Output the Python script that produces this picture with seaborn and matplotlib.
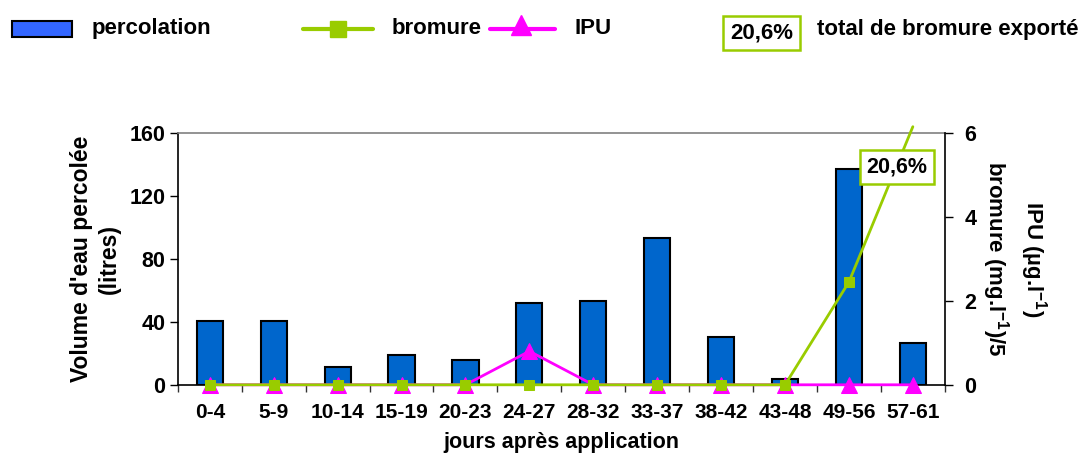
import numpy as np
import pandas as pd
import matplotlib
matplotlib.use("Agg")
import matplotlib.pyplot as plt
from matplotlib.patches import Rectangle
from matplotlib.lines import Line2D
import seaborn as sns

# donnees
periodes = ["0-4", "5-9", "10-14", "15-19", "20-23", "24-27",
            "28-32", "33-37", "38-42", "43-48", "49-56", "57-61"]
percolation = [40.8, 40.5, 11.2, 19.2, 15.6, 52.0, 53.2, 93.4, 30.6, 3.9, 136.8, 26.6]
bromure = [0, 0, 0, 0, 0, 0, 0, 0, 0, 0, 2.45, 6.15]
ipu = [0, 0, 0, 0, 0, 0.8, 0, 0, 0, 0, 0, 0]
total_exporte = "20,6%"

df = pd.DataFrame({"periode": periodes, "percolation": percolation,
                   "bromure": bromure, "ipu": ipu, "pos": np.arange(len(periodes))})

sns.set_theme(style="white")
plt.rcParams["font.family"] = ["Liberation Sans", "DejaVu Sans"]
plt.rcParams["font.weight"] = "bold"
plt.rcParams["text.color"] = "black"
plt.rcParams["axes.labelcolor"] = "black"
plt.rcParams["xtick.color"] = "black"
plt.rcParams["ytick.color"] = "black"
plt.rcParams["mathtext.fontset"] = "custom"
plt.rcParams["mathtext.rm"] = "Liberation Sans:bold"
plt.rcParams["mathtext.bf"] = "Liberation Sans:bold"
plt.rcParams["mathtext.default"] = "rm"

BLEU = "#0066cc"
VERT = "#99cc00"
ROSE = "#ff00ff"
FS = 15.5

fig = plt.figure(figsize=(10.91, 4.57), dpi=100)
ax = fig.add_axes([0.163, 0.158, 0.703, 0.551])

# 1. barres de percolation
sns.barplot(data=df, x="periode", y="percolation", ax=ax, color=BLEU,
            saturation=1, width=0.41, edgecolor="black", linewidth=1.5, zorder=2)
ax.set_xlim(-0.5, 11.5)
ax.set_ylim(0, 160)
ax.set_yticks([0, 40, 80, 120, 160])
ax.set_xlabel("jours après application", fontsize=15.5, fontweight="bold", labelpad=7)
ax.set_ylabel("Volume d'eau percolée\n(litres)", fontsize=16.5, fontweight="bold",
              labelpad=6, linespacing=1.25)
ax.tick_params(axis="y", labelsize=FS, length=6, width=1, left=True, pad=3)
ax.tick_params(axis="x", which="major", length=0, labelsize=15, pad=13)
ax.set_xticks(np.arange(-0.5, 12, 1), minor=True)
ax.tick_params(axis="x", which="minor", bottom=True, length=5, width=1, color="#333333")
for s in ["left", "bottom"]:
    ax.spines[s].set_color("black")
    ax.spines[s].set_linewidth(1.2)
ax.spines["top"].set_color("#808080")
ax.spines["top"].set_linewidth(1.2)
ax.spines["right"].set_visible(False)
for lab in ax.get_xticklabels() + ax.get_yticklabels():
    lab.set_fontweight("bold")

# 2. bromure et IPU sur l'axe droit
ax2 = ax.twinx()
ax2.set_ylim(0, 6)
ax2.set_yticks([0, 2, 4, 6])
sns.lineplot(data=df, x="pos", y="ipu", ax=ax2, color=ROSE, linewidth=2,
             marker="^", markersize=11, markeredgecolor=ROSE, zorder=3,
             clip_on=False)
sns.lineplot(data=df, x="pos", y="bromure", ax=ax2, color=VERT, linewidth=2,
             marker="s", markersize=7, markeredgecolor=VERT, zorder=4,
             markevery=list(range(len(periodes) - 1)))
ligne_br = ax2.get_lines()[-1]
ligne_br.set_clip_path(Rectangle((-0.05, -0.1), 1.1, 1.13, transform=ax2.transAxes))
ax2.set_xlim(-0.5, 11.5)
ax2.set_xlabel("")
ax2.set_ylabel("IPU (µg.l$^{-1}$)\nbromure (mg.l$^{-1}$)/5", rotation=270,
               fontsize=16, fontweight="bold", labelpad=52, linespacing=1.3)
ax2.tick_params(axis="y", labelsize=FS, length=6, width=1, right=True, pad=8)
for lab in ax2.get_yticklabels():
    lab.set_fontweight("bold")
for s in ["left", "bottom", "top"]:
    ax2.spines[s].set_visible(False)
ax2.spines["right"].set_color("black")
ax2.spines["right"].set_linewidth(1.2)

ax2.text(10.75, 5.2, total_exporte, fontsize=FS, fontweight="bold",
         ha="center", va="center", zorder=6,
         bbox=dict(boxstyle="square,pad=0.3", facecolor="white",
                   edgecolor=VERT, linewidth=1.8))

# 3. legende en haut (symboles dessines a la main)
fig.add_artist(Rectangle((0.011, 0.919), 0.055, 0.035, transform=fig.transFigure,
                         facecolor="#3366ff", edgecolor="black", linewidth=1.5))
fig.text(0.0843, 0.937, "percolation", fontsize=16, fontweight="bold", va="center")
fig.add_artist(Line2D([0.278, 0.342], [0.937, 0.937], transform=fig.transFigure,
                      color=VERT, linewidth=3))
fig.add_artist(Line2D([0.31], [0.937], transform=fig.transFigure, color=VERT,
                      marker="s", markersize=11))
fig.text(0.359, 0.937, "bromure", fontsize=16, fontweight="bold", va="center")
fig.add_artist(Line2D([0.449, 0.509], [0.937, 0.937], transform=fig.transFigure,
                      color=ROSE, linewidth=3))
fig.add_artist(Line2D([0.478], [0.945], transform=fig.transFigure, color=ROSE,
                      marker="^", markersize=14))
fig.text(0.527, 0.937, "IPU", fontsize=16, fontweight="bold", va="center")
fig.text(0.698, 0.928, total_exporte, fontsize=16, fontweight="bold",
         ha="center", va="center",
         bbox=dict(boxstyle="square,pad=0.3", facecolor="white",
                   edgecolor=VERT, linewidth=1.8))
fig.text(0.749, 0.935, "total de bromure exporté", fontsize=16,
         fontweight="bold", ha="left", va="center")

fig.savefig("out.png", dpi=100)
